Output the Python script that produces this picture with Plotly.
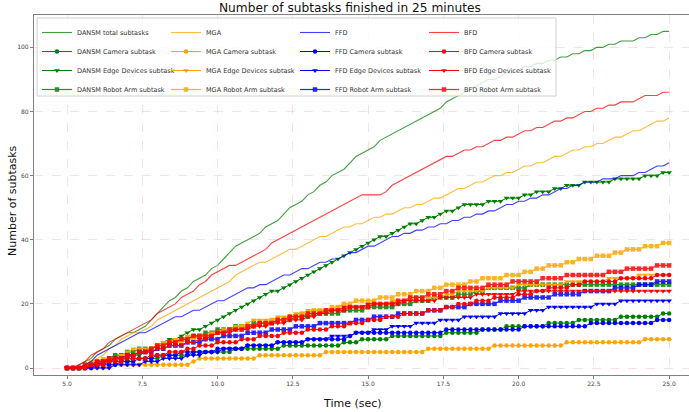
import plotly.graph_objects as go
import numpy as np

# ---------------- data ----------------
time_sec = np.round(np.arange(5.0, 25.0001, 0.2), 1)

algorithms = ["DANSM", "MGA", "FFD", "BFD"]
colors = {"DANSM": "green", "MGA": "orange", "FFD": "blue", "BFD": "red"}

DANSM_total = [0,0,1,2,3, 5,6,7,9,10, 11,11,12,13,15, 17,19,21,22,24, 25,27,28,29,31,
               32,34,36,38,39, 40,41,42,44,45, 46,48,50,51,52, 54,55,57,58,60, 61,62,64,66,67,
               68,69,71,72,73, 74,75,76,77,78, 79,80,81,83,84, 85,86,87,88,89, 90,90,91,92,92,
               93,94,94,95,95, 96,96,97,97,98, 98,99,99,100,100, 101,101,102,102,102,
               103,103,104,104,105, 105]
DANSM_camera = [0,0,0,0,1, 1,1,2,2,2, 2,3,3,3,3, 3,4,4,4,4, 4,5,5,5,5,
                5,5,5,6,6, 6,6,6,6,6, 6,7,7,7,7, 7,7,7,7,7, 7,8,8,8,9,
                9,9,9,9,10, 10,10,10,10,10, 10,10,10,11,11, 11,11,11,11,12, 12,12,12,13,13,
                13,13,13,13,13, 14,14,14,14,14, 15,15,15,15,15, 15,15,16,16,16, 16,16,16,16,17, 17]
DANSM_edge = [0,0,0,0,1, 1,1,2,2,3, 3,4,4,5,6, 7,8,9,9,10, 11,12,12,13,14,
              15,16,17,18,19, 20,21,22,23,24, 24,25,26,27,28, 29,30,31,32,33, 34,35,36,37,38,
              39,40,41,41,42, 43,44,45,45,46, 47,47,48,49,49, 50,51,51,51,51, 52,52,52,53,53,
              53,54,54,55,55, 55,56,56,57,57, 57,58,58,58,58, 58,59,59,59,59, 59,60,60,60,61, 61]
DANSM_robot = [0,0,0,1,1, 2,2,3,4,4, 5,5,6,6,6, 7,7,8,8,9, 9,10,10,11,11,
               12,12,12,13,13, 13,14,14,14,14, 15,15,15,16,16, 16,17,17,17,17, 17,18,18,18,18,
               19,19,19,19,19, 20,20,20,21,21, 21,22,22,22,22, 23,23,23,24,24, 25,25,25,25,25,
               25,25,26,26,26, 26,26,26,26,26, 26,26,26,26,26, 26,26,26,26,26, 26,26,26,26,26, 26]

MGA_total = [0,0,0,1,2, 3,4,6,7,9, 10,11,11,12,13, 15,16,17,18,19, 20,21,22,23,24,
             25,26,27,29,30, 31,32,33,33,34, 35,36,37,37,38, 39,40,41,41,42, 43,44,44,45,45,
             46,47,47,48,48, 49,50,50,51,51, 52,53,53,54,55, 56,56,57,58,58, 59,60,60,61,61,
             62,63,63,64,64, 65,66,66,67,68, 68,69,69,70,70, 71,72,72,73,74, 74,75,76,77,77, 78]
MGA_camera = [0,0,0,0,0, 0,0,1,1,1, 1,1,1,1,1, 1,1,1,1,1, 1,2,3,3,3,
              3,3,3,3,3, 3,3,4,4,4, 4,4,4,4,4, 4,4,4,5,5, 5,5,5,5,5,
              5,5,5,5,5, 5,5,5,5,5, 6,6,6,6,6, 6,6,6,6,6, 6,7,7,7,7,
              7,7,7,7,7, 7,7,7,8,8, 8,8,8,8,8, 8,8,8,8,8, 8,9,9,9,9, 9]
MGA_edge = [0,0,0,1,2, 2,3,3,3,4, 5,6,6,6,6, 7,8,8,9,9, 10,10,10,10,11,
            11,12,12,13,13, 14,15,15,15,15, 16,16,16,17,17, 18,18,18,18,18, 19,19,19,19,19,
            20,20,20,20,21, 21,21,21,22,22, 22,22,22,23,23, 24,24,24,24,24, 25,25,25,25,25,
            26,26,26,26,26, 26,26,26,27,27, 27,27,27,27,27, 28,28,28,28,28, 29,29,29,29,29, 29]
MGA_robot = [0,0,0,0,0, 1,1,2,3,3, 4,4,5,5,6, 7,7,8,8,8, 9,9,10,10,10,
             11,11,12,12,13, 13,13,14,14,15, 15,15,16,16,17, 17,18,18,18,19, 19,20,20,21,21,
             21,21,22,22,22, 23,23,23,24,24, 24,25,25,26,26, 26,26,27,27,28, 28,28,28,29,29,
             29,30,30,31,31, 32,32,32,33,33, 34,34,34,35,35, 35,36,36,37,37, 37,38,38,38,39, 39]

FFD_total = [0,0,0,1,2, 4,5,6,7,8, 9,10,11,11,12, 13,14,15,16,16, 17,18,18,19,20,
             21,21,22,23,24, 25,25,26,26,27, 28,29,29,30,31, 31,32,33,33,34, 34,35,36,36,37,
             38,38,39,40,41, 41,42,42,43,43, 44,44,45,45,46, 46,47,47,48,48, 49,49,50,51,51,
             52,52,53,53,54, 54,55,56,56,57, 57,58,58,58,59, 59,59,60,60,60, 61,61,62,63,63, 64]
FFD_camera = [0,0,0,0,0, 1,1,1,1,2, 2,2,3,3,3, 4,4,4,4,5, 5,5,5,5,5,
              6,6,6,6,6, 7,7,7,7,7, 8,8,8,8,8, 9,9,9,9,9, 9,9,10,11,11,
              11,11,11,11,11, 11,11,11,11,11, 11,11,11,12,12, 12,12,12,12,12, 12,12,12,12,12,
              12,13,13,13,13, 13,13,13,13,13, 13,13,14,14,14, 14,14,14,14,14, 14,14,14,15,15, 15]
FFD_edge = [0,0,0,0,0, 0,0,0,1,1, 1,1,1,2,2, 2,3,3,3,3, 4,4,4,5,5,
            5,6,6,6,6, 7,7,7,7,7, 8,8,8,8,8, 9,9,9,9,10, 10,10,10,11,11,
            11,12,12,12,13, 13,13,13,14,14, 14,14,15,15,15, 15,16,16,16,16, 16,16,17,17,17,
            17,17,18,18,18, 19,19,19,19,19, 19,19,19,20,20, 20,20,21,21,21, 21,21,21,21,21, 21]
FFD_robot = [0,0,0,0,1, 1,2,2,3,3, 4,4,5,5,5, 6,6,7,7,7, 8,8,8,9,9,
             9,10,10,10,10, 11,11,11,11,12, 12,12,12,13,13, 13,13,14,14,14, 14,14,14,15,15,
             15,16,16,16,16, 17,17,17,17,17, 18,18,18,19,19, 19,19,20,20,20, 20,20,21,21,21,
             21,22,22,22,22, 22,23,23,23,23, 23,24,24,24,24, 24,25,25,25,25, 26,26,26,27,27, 27]

BFD_total = [0,0,1,2,4, 5,6,8,9,10, 11,12,13,14,15, 17,18,19,20,22, 23,24,26,27,29,
             30,31,32,32,33, 34,35,36,37,39, 40,41,42,43,44, 45,46,47,48,49, 50,51,52,53,54,
             54,54,54,55,57, 58,59,60,61,62, 63,64,65,66,66, 67,68,68,69,69, 70,71,71,72,72,
             73,74,74,75,75, 76,77,77,78,78, 79,80,80,81,81, 82,82,83,83,83, 84,85,85,85,86, 86]
BFD_camera = [0,0,0,0,1, 1,1,2,2,2, 3,3,3,3,4, 4,4,5,5,5, 6,6,7,7,7,
              8,8,8,8,9, 9,9,10,10,10, 10,11,11,11,11, 12,12,12,12,13, 13,13,14,14,14,
              15,15,15,16,16, 16,17,17,17,17, 18,18,18,19,19, 20,20,20,21,21, 21,22,22,22,22,
              23,23,23,24,24, 25,25,25,25,26, 26,27,27,27,27, 27,27,28,28,28, 28,28,28,29,29, 29]
BFD_edge = [0,0,0,0,1, 2,2,2,3,3, 4,4,5,5,5, 6,6,7,7,7, 8,8,9,9,10,
            11,11,11,12,12, 12,13,13,13,14, 14,14,15,15,15, 16,16,17,17,18, 18,19,19,19,19,
            20,20,20,20,20, 20,21,21,21,21, 21,21,22,22,22, 22,22,22,23,23, 23,23,23,23,23,
            24,24,24,24,24, 24,24,24,24,24, 24,24,24,24,24, 24,24,24,24,24, 24,24,24,24,24, 24]
BFD_robot = [0,0,0,1,1, 2,2,3,3,3, 4,4,5,5,6, 7,7,8,8,9, 9,10,10,10,10,
             11,11,12,12,12, 13,13,14,14,14, 15,15,16,16,16, 17,17,17,18,18, 18,18,19,19,19,
             19,20,20,20,20, 21,21,22,22,22, 23,23,23,24,24, 25,25,25,25,25, 26,26,26,26,27,
             27,27,27,27,28, 28,28,28,29,29, 29,29,29,29,29, 30,30,30,31,31, 31,31,31,32,32, 32]

series = {
    "DANSM": (DANSM_total, DANSM_camera, DANSM_edge, DANSM_robot),
    "MGA": (MGA_total, MGA_camera, MGA_edge, MGA_robot),
    "FFD": (FFD_total, FFD_camera, FFD_edge, FFD_robot),
    "BFD": (BFD_total, BFD_camera, BFD_edge, BFD_robot),
}

x_ticks = [5.0, 7.5, 10.0, 12.5, 15.0, 17.5, 20.0, 22.5, 25.0]
y_ticks = [0, 20, 40, 60, 80, 100]

# ---------------- figure ----------------
fig = go.Figure()
FONT = "DejaVu Sans"
legend_ids = ["legend", "legend2", "legend3", "legend4"]

for col, alg in enumerate(algorithms):
    c = colors[alg]
    lg = legend_ids[col]
    tot, cam, edge, rob = series[alg]
    tname = "DANSM total subtasks" if alg == "DANSM" else alg
    fig.add_trace(go.Scatter(x=time_sec, y=tot, mode="lines", name=tname, legend=lg,
                             line=dict(color=c, width=1.1), opacity=0.75))
    fig.add_trace(go.Scatter(x=time_sec, y=cam, mode="lines+markers", name=f"{alg} Camera subtask", legend=lg,
                             line=dict(color=c, width=1), marker=dict(symbol="circle", size=4.5, color=c)))
    fig.add_trace(go.Scatter(x=time_sec, y=edge, mode="lines+markers", name=f"{alg} Edge Devices subtask", legend=lg,
                             line=dict(color=c, width=1), marker=dict(symbol="triangle-down", size=5, color=c)))
    fig.add_trace(go.Scatter(x=time_sec, y=rob, mode="lines+markers", name=f"{alg} Robot Arm subtask", legend=lg,
                             line=dict(color=c, width=1.2), marker=dict(symbol="square", size=4.5, color=c),
                             opacity=0.85))

W, H = 689, 412
L, R, T, B = 34, 0, 15, 37
PW, PH = W - L - R, H - T - B

def px_x(p):
    return (p - L) / PW

def px_y(p):
    return (H - B - p) / PH

legend_left_px = [37, 166, 295, 424]
legend_layouts = {}
for lg, lx in zip(legend_ids, legend_left_px):
    legend_layouts[lg] = dict(orientation="v", x=px_x(lx), y=px_y(18), xanchor="left", yanchor="top",
                              font=dict(family=FONT, size=6.5, color="#333"),
                              bgcolor="rgba(0,0,0,0)", borderwidth=0, tracegroupgap=0,
                              itemwidth=30, traceorder="normal")

fig.update_layout(
    width=W, height=H,
    margin=dict(l=L, r=R, t=T, b=B),
    paper_bgcolor="white", plot_bgcolor="white",
    font=dict(family=FONT, color="#333"),
    showlegend=True,
    **legend_layouts,
    shapes=[dict(type="rect", xref="paper", yref="paper", layer="above",
                 x0=px_x(37), x1=px_x(556), y0=px_y(96), y1=px_y(18),
                 fillcolor="rgba(255,255,255,0.8)", line=dict(color="#d0d0d0", width=1))],
    xaxis=dict(range=[3.904, 25.66], tickvals=x_ticks, ticktext=[f"{v:.1f}" for v in x_ticks],
               showgrid=True, gridcolor="rgba(255,0,0,0.13)", griddash="dash", gridwidth=1,
               zeroline=False, showline=True, linecolor="#808080", linewidth=1.2, mirror=True,
               ticks="outside", ticklen=3, tickcolor="#808080",
               tickfont=dict(family=FONT, size=6, color="#444")),
    yaxis=dict(range=[-2.18, 110.1], tickvals=y_ticks,
               showgrid=True, gridcolor="rgba(255,0,0,0.13)", griddash="dash", gridwidth=1,
               zeroline=False, showline=True, linecolor="#808080", linewidth=1.2, mirror=True,
               ticks="outside", ticklen=3, tickcolor="#808080",
               tickfont=dict(family=FONT, size=6, color="#444")),
    annotations=[
        dict(text="Number of subtasks finished in 25 minutes", xref="paper", yref="paper",
             x=px_x(350), y=px_y(7.5), xanchor="center", yanchor="middle",
             showarrow=False, font=dict(family=FONT, size=12.2, color="#111")),
        dict(text="Time (sec)", xref="paper", yref="paper",
             x=px_x(352), y=px_y(403), xanchor="center", yanchor="middle",
             showarrow=False, font=dict(family=FONT, size=11, color="#111")),
        dict(text="Number of subtasks", xref="paper", yref="paper", textangle=-90,
             x=px_x(13), y=px_y(201), xanchor="center", yanchor="middle",
             showarrow=False, font=dict(family=FONT, size=11, color="#111")),
    ],
)

fig.write_html("out.html", config={"displayModeBar": False},
               post_script="document.body.style.margin='0';document.body.style.padding='0';")
